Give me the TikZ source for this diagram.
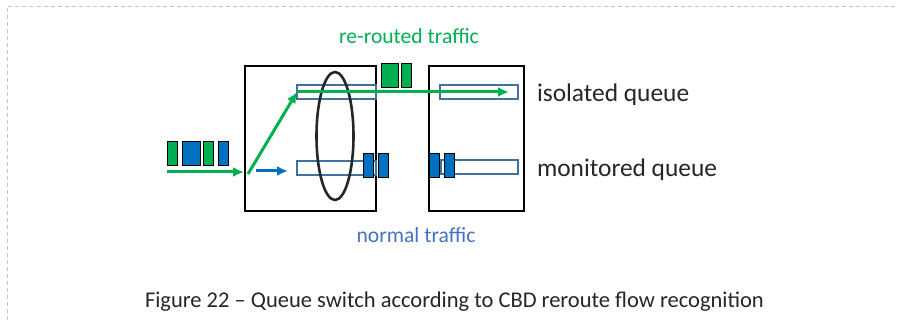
\documentclass[tikz,border=0pt]{standalone}
\usepackage{fontspec}
\setmainfont{Carlito}
\usepackage{tikz}
\usetikzlibrary{shapes.geometric,arrows,arrows.meta,positioning}
\definecolor{flowgreen}{RGB}{0,176,80}
\definecolor{flowblue}{RGB}{0,112,192}
\definecolor{queueline}{RGB}{65,113,156}
\definecolor{labelblue}{RGB}{68,114,196}
\definecolor{inkgray}{RGB}{38,38,38}

\begin{document}
\begin{tikzpicture}[x=1pt,y=-1pt]
	\tikzstyle{every node} = [inner sep = 0pt, outer sep = 0pt]
	\tikzstyle{switchbox} = [rectangle, draw = black, line width = 1.3pt, anchor = north west, minimum height = 145]
	\tikzstyle{queuebox} = [rectangle, draw = queueline, line width = 1.2pt, fill = white, anchor = north west, minimum height = 14]
	\tikzstyle{pkt} = [rectangle, draw = black, line width = 1pt, anchor = north west, minimum height = 24]
	\tikzstyle{flow} = [line width = 3pt, -{Latex[length = 11pt, width = 10pt]}]
\useasboundingbox (0,0) rectangle (897,320);
\draw[dash pattern = on 4pt off 3pt, gray!45, line width = 1pt] (7,320) -- (7,6.5) -- (897,6.5);
% switches and queues
\node[switchbox, minimum width = 131] (sw1) at (245,66) {};
\node[switchbox, minimum width = 95] (sw2) at (429,66) {};
\node[queuebox, minimum width = 79] (q1) at (297,85) {};
\node[queuebox, minimum width = 78] (q2) at (440,85) {};
\node[queuebox, minimum width = 79] (q3) at (297,161) {};
\node[queuebox, minimum width = 77] (q4) at (441,160) {};
\node[ellipse, draw = inkgray, line width = 2.6pt, minimum width = 37, minimum height = 128] (sel) at (335,136) {};
% flows
\coordinate (src) at (167,172);
\coordinate (entry) at (244,172);
\coordinate (turn) at (248,174);
\coordinate (isoend) at (509,92);
\coordinate (bstart) at (256,171);
\coordinate (bend) at (288,171);
	\path[draw][flow, flowgreen] (src) -- (entry);
	\path[draw][flow, flowgreen] (turn) -- (q1.west);
	\path[draw][flow, flowgreen] (q1.west) -- (isoend);
	\path[draw][flow, flowblue] (bstart) -- (bend);
% packets
\node[pkt, fill = flowgreen, minimum width = 10.5] (p1) at (167,142) {};
\node[pkt, fill = flowblue, minimum width = 18] (p2) at (182,142) {};
\node[pkt, fill = flowgreen, minimum width = 10] (p3) at (203,142) {};
\node[pkt, fill = flowblue, minimum width = 10] (p4) at (218,142) {};
\node[pkt, fill = flowgreen, minimum width = 17] (g1) at (381,64) {};
\node[pkt, fill = flowgreen, minimum width = 10] (g2) at (401,64) {};
\node[pkt, fill = flowblue, minimum width = 10.5] (b1) at (363,154) {};
\node[pkt, fill = flowblue, minimum width = 10.5] (b2) at (378,154) {};
\node[pkt, fill = flowblue, minimum width = 10.5] (b3) at (429,154) {};
\node[pkt, fill = flowblue, minimum width = 10.5] (b4) at (444,154) {};
% labels
\node[text = flowgreen, font = \fontsize{21.6}{24}\selectfont] (rerouted) at (409,36) {re-routed traffic};
\node[text = labelblue, font = \fontsize{21.6}{24}\selectfont] (normal) at (416,235) {normal traffic};
\node[anchor = base west, text = inkgray, font = \fontsize{25.4}{28}\selectfont] (isolated) at (537,101.7) {isolated queue};
\node[anchor = base west, text = inkgray, font = \fontsize{25.4}{28}\selectfont] (monitored) at (537,176.7) {monitored queue};
\node[anchor = base west, text = inkgray, font = \fontsize{22.5}{25}\selectfont] (caption) at (145,308) {Figure 22 – Queue switch according to CBD reroute flow recognition};
	\end{tikzpicture}
\end{document}
